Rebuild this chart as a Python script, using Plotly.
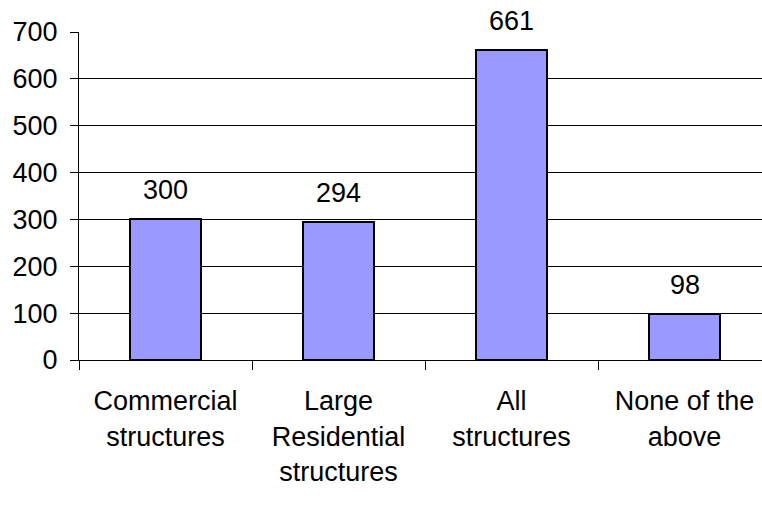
import plotly.graph_objects as go

categories = ["Commercial<br>structures", "Large<br>Residential<br>structures", "All<br>structures", "None of the<br>above"]
values = [300, 294, 661, 98]
y_ticks = [0, 100, 200, 300, 400, 500, 600, 700]

FONT = "Liberation Sans, Arial, sans-serif"

fig = go.Figure(go.Bar(
    x=categories, y=values,
    marker=dict(color="#9999FF", line=dict(color="black", width=2)),
    width=0.41,
    cliponaxis=False,
    hoverinfo="skip",
))

for c, v in zip(categories, values):
    fig.add_annotation(x=c, y=v, text=str(v), showarrow=False, yanchor="bottom",
                       yshift=12, font=dict(family=FONT, size=27, color="black"))

fig.update_layout(
    width=762, height=514,
    margin=dict(l=79, r=0, t=32, b=154),
    plot_bgcolor="white", paper_bgcolor="white",
    showlegend=False,
    font=dict(family=FONT, size=27, color="black"),
    bargap=0,
)
fig.update_xaxes(
    range=[-0.5, 3.448],
    showline=True, linecolor="black", linewidth=1,
    ticks="outside", tickson="boundaries", ticklen=9, tickcolor="black", tickwidth=1,
    showgrid=False, tickfont=dict(size=27),
    ticklabelstandoff=17,
)
fig.update_yaxes(
    range=[0, 700], tickvals=y_ticks,
    showline=True, linecolor="black", linewidth=1,
    ticks="outside", ticklen=8, tickcolor="black", tickwidth=1,
    showgrid=True, gridcolor="black", gridwidth=1,
    zeroline=False, tickfont=dict(size=27),
    ticklabelstandoff=7,
)

fig.write_html("out.html", config={"displayModeBar": False},
               post_script="document.body.style.margin='0';document.body.style.overflow='hidden';")
